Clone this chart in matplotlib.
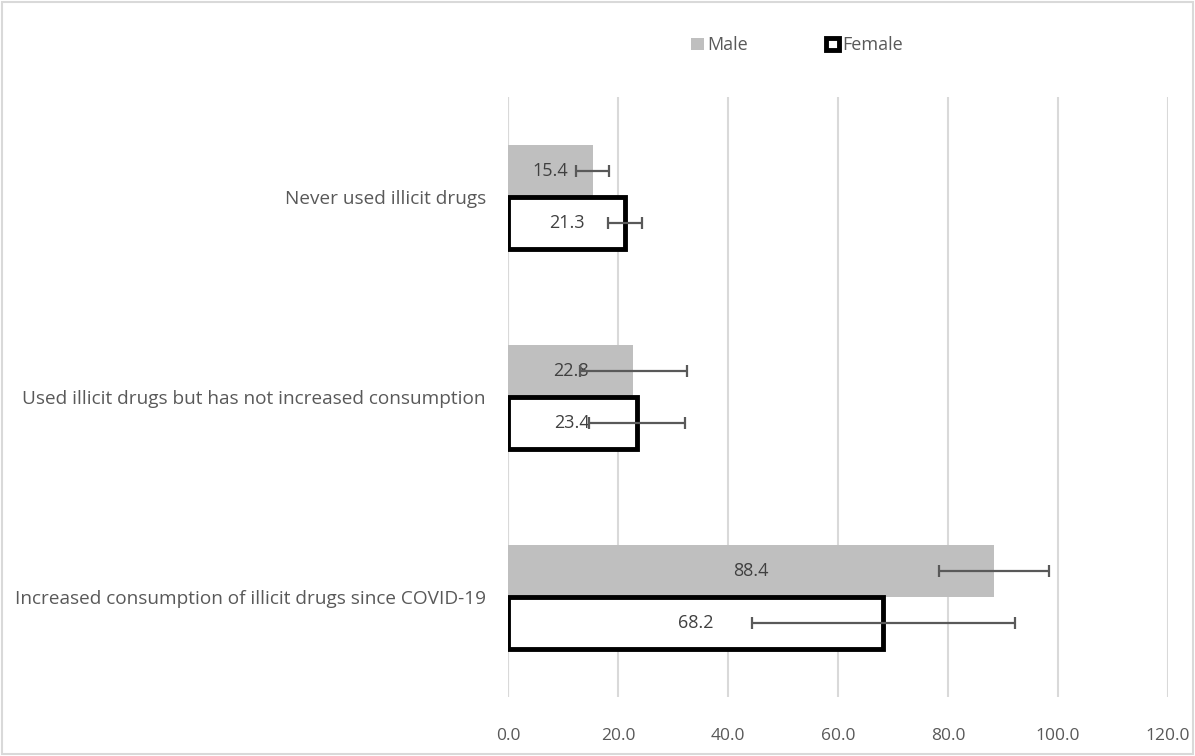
import numpy as np
import matplotlib.pyplot as plt
from matplotlib.patches import Rectangle

categories = ["Never used illicit drugs",
              "Used illicit drugs but has not increased consumption",
              "Increased consumption of illicit drugs since COVID-19"]
male = [15.4, 22.8, 88.4]
female = [21.3, 23.4, 68.2]
male_err = [3.0, 9.8, 10.0]
female_err = [3.1, 8.7, 23.9]
xticks = [0, 20, 40, 60, 80, 100, 120]

plt.rcParams['font.family'] = ['Open Sans', 'DejaVu Sans']
txt = '#595959'

fig = plt.figure(figsize=(11.95, 7.56), dpi=100)
ax = fig.add_axes([508/1195, 1 - 697/756, (1168-508)/1195, (697-97)/756])

y = np.arange(len(categories))
h = 0.26
ax.barh(y - h/2, male, height=h, color='#bfbfbf', zorder=2, label='Male')
ax.barh(y + h/2, female, height=h, color='white', edgecolor='black',
        linewidth=3.5, zorder=2, label='Female')
ax.errorbar(male, y - h/2, xerr=male_err, fmt='none', ecolor='#595959',
            elinewidth=1.6, capsize=4, capthick=1.6, zorder=4)
ax.errorbar(female, y + h/2, xerr=female_err, fmt='none', ecolor='#595959',
            elinewidth=1.6, capsize=4, capthick=1.6, zorder=4)

for i in range(len(categories)):
    ax.text(male[i]/2, y[i] - h/2, f"{male[i]:.1f}", ha='center', va='center',
            fontsize=13, color='#404040', zorder=3)
    ax.text(female[i]/2, y[i] + h/2, f"{female[i]:.1f}", ha='center', va='center',
            fontsize=13, color='#404040', zorder=3)

ax.set_xlim(0, 120)
ax.set_ylim(2.5, -0.5)
ax.set_xticks(xticks)
ax.set_xticklabels([f"{v:.1f}" for v in xticks], fontsize=12.5, color=txt)
ax.set_yticks(y)
ax.set_yticklabels(categories, fontsize=13.7, color=txt)
ax.tick_params(length=0, axis='both')
ax.tick_params(axis='x', pad=22)
ax.tick_params(axis='y', pad=16)
ax.grid(axis='x', color='#d9d9d9', linewidth=1.5, zorder=0)
ax.set_axisbelow(True)
for s in ax.spines.values():
    s.set_visible(False)
ax.axvline(0, color='#d9d9d9', linewidth=1.5, zorder=1)

leg = fig.legend(loc='center', bbox_to_anchor=(0.667, 0.94), ncol=2, frameon=False,
                 fontsize=13, handlelength=0.7, handleheight=0.7, handletextpad=0.2,
                 columnspacing=4.3, labelcolor=txt)
for hnd in leg.legend_handles:
    if hnd.get_label() == 'Female':
        hnd.set_linewidth(2.5)

fig.patches.append(Rectangle((0.002, 0.002), 0.996, 0.996, transform=fig.transFigure,
                             fill=False, edgecolor='#d9d9d9', linewidth=1.5))

fig.savefig('out.png', dpi=100)
